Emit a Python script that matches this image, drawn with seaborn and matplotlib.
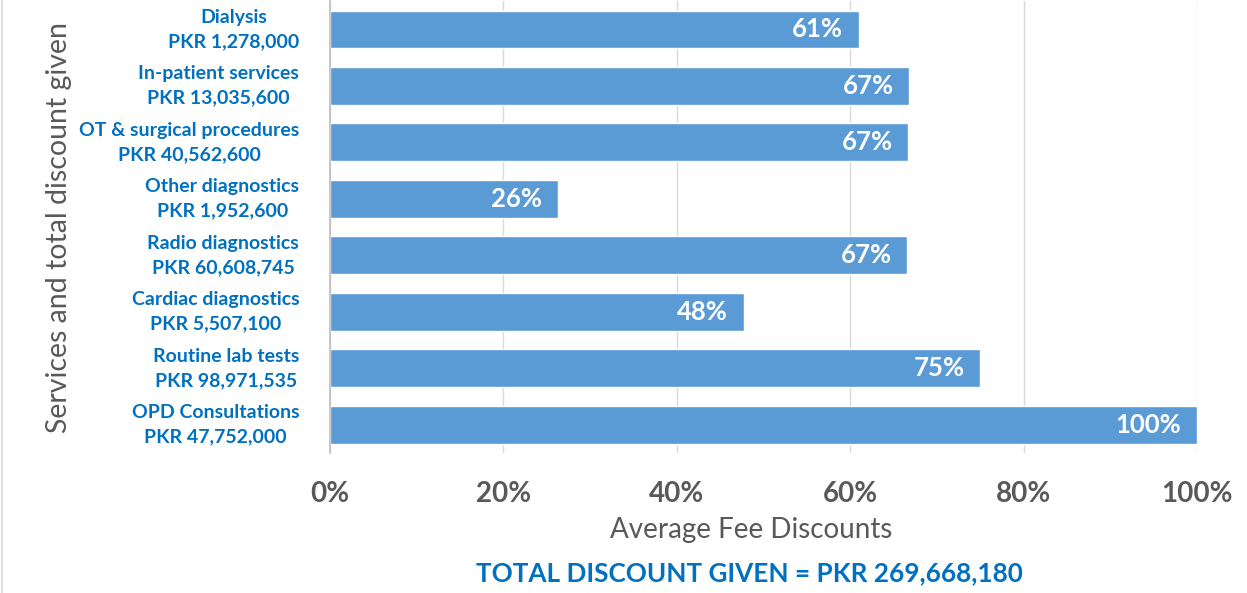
import pandas as pd
import matplotlib.pyplot as plt
import matplotlib.lines as mlines
import seaborn as sns

# Data
services = ["Dialysis", "In-patient services", "OT & surgical procedures",
            "Other diagnostics", "Radio diagnostics", "Cardiac diagnostics",
            "Routine lab tests", "OPD Consultations"]
amounts = ["PKR 1,278,000", "PKR 13,035,600", "PKR 40,562,600",
           "PKR 1,952,600", "PKR 60,608,745", "PKR 5,507,100",
           "PKR 98,971,535", "PKR 47,752,000"]
discounts = [0.61, 0.668, 0.667, 0.263, 0.666, 0.477, 0.75, 1.0]
x_ticks = [0, 0.2, 0.4, 0.6, 0.8, 1.0]
total_text = "TOTAL DISCOUNT GIVEN = PKR 269,668,180"

BAR = "#5B9BD5"
BLUE = "#0070C0"
GRAY = "#595959"


def main():
    sns.set_theme(style="whitegrid")
    plt.rcParams["font.family"] = ["Lato", "DejaVu Sans"]

    labels = [f"{s}\n{a}" for s, a in zip(services, amounts)]
    df = pd.DataFrame({"label": labels, "discount": discounts})

    fig, ax = plt.subplots(figsize=(12.47, 5.93), dpi=100)
    fig.subplots_adjust(left=0.2646, right=0.960, top=0.998, bottom=0.236)

    sns.barplot(data=df, x="discount", y="label", orient="h", color=BAR,
                saturation=1, width=0.67, ax=ax)

    # value labels inside the bar ends
    for i, v in enumerate(discounts):
        ax.text(v - 0.018, i, f"{v:.0%}", ha="right", va="center",
                color="white", fontsize=18.5, fontweight="bold")

    ax.set_xlim(0, 1.0)
    ax.set_ylim(len(services) - 0.5, -0.5)
    ax.set_xticks(x_ticks)
    ax.set_xticklabels([f"{t:.0%}" for t in x_ticks], fontsize=20,
                       fontweight="bold", color=GRAY)
    ax.tick_params(axis="x", length=0, pad=20)

    # category labels drawn by hand so the line spacing can be opened up
    ax.set_yticks(range(len(labels)))
    ax.set_yticklabels([])
    ax.tick_params(axis="y", length=0)
    for i, lab in enumerate(labels):
        ax.text(-0.0355, i, lab, transform=ax.get_yaxis_transform(),
                ha="right", va="center", multialignment="center",
                linespacing=1.5, fontsize=14, fontweight="bold", color=BLUE)

    ax.grid(axis="x", color="#D9D9D9", linewidth=1)
    ax.grid(axis="y", visible=False)
    for side in ["top", "right", "bottom"]:
        ax.spines[side].set_visible(False)
    ax.spines["left"].set_color("#BFBFBF")
    ax.spines["left"].set_linewidth(1.2)

    ax.set_xlabel("Average Fee Discounts", fontsize=20, color=GRAY)
    ax.xaxis.set_label_coords(0.486, -0.142)
    ax.set_ylabel("Services and total discount given", fontsize=20.5, color=GRAY)
    ax.yaxis.set_label_coords(-0.297, 0.5)

    fig.text(0.601, 0.034, total_text, ha="center", va="center",
             fontsize=18.8, fontweight="bold", color=BLUE)

    # thin frame edge on the left of the picture
    fig.add_artist(mlines.Line2D([0.002, 0.002], [0, 1], color="#D9D9D9",
                                 linewidth=1.2, transform=fig.transFigure))

    fig.savefig("out.png", dpi=100)


if __name__ == "__main__":
    main()
